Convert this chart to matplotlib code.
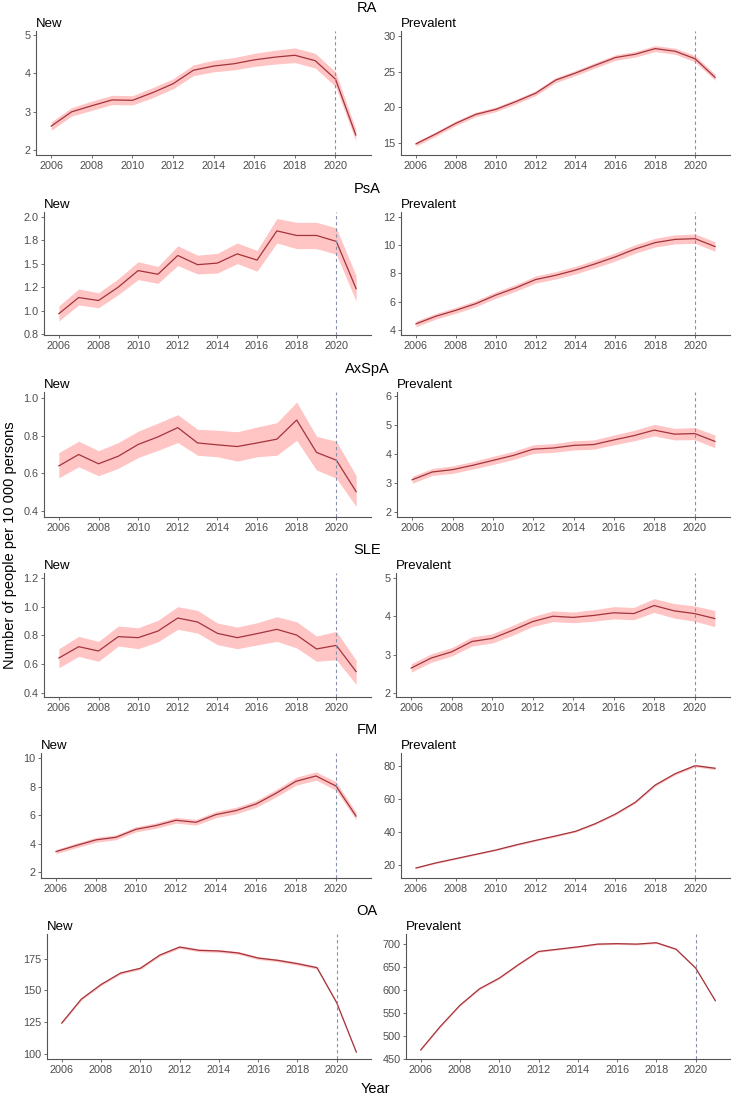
import matplotlib
matplotlib.use("Agg")
import matplotlib.pyplot as plt

plt.rcParams['font.family'] = ['Liberation Sans', 'DejaVu Sans']

years = list(range(2006, 2022))
x_ticks = [2006, 2008, 2010, 2012, 2014, 2016, 2018, 2020]
cut_year = 2020

diseases = ['RA', 'PsA', 'AxSpA', 'SLE', 'FM', 'OA']

# RA
ra_new = [2.63, 3.00, 3.16, 3.31, 3.30, 3.50, 3.73, 4.08, 4.19, 4.25, 4.35, 4.42, 4.47, 4.33, 3.85, 2.40]
ra_new_lo = [2.52, 2.89, 3.04, 3.19, 3.18, 3.37, 3.60, 3.94, 4.04, 4.09, 4.18, 4.24, 4.28, 4.14, 3.66, 2.25]
ra_new_hi = [2.74, 3.11, 3.28, 3.43, 3.42, 3.63, 3.86, 4.22, 4.34, 4.41, 4.52, 4.60, 4.66, 4.52, 4.04, 2.55]
ra_prev = [14.86, 16.26, 17.75, 19.0, 19.7, 20.78, 21.97, 23.8, 24.8, 25.9, 26.97, 27.44, 28.23, 27.86, 26.8, 24.2]
ra_prev_lo = [14.55, 15.95, 17.43, 18.68, 19.38, 20.45, 21.63, 23.45, 24.44, 25.53, 26.58, 27.04, 27.81, 27.43, 26.36, 23.76]
ra_prev_hi = [15.17, 16.57, 18.07, 19.32, 20.02, 21.11, 22.31, 24.15, 25.16, 26.27, 27.36, 27.84, 28.65, 28.29, 27.24, 24.64]

# PsA
psa_new = [0.967, 1.139, 1.107, 1.25, 1.426, 1.387, 1.587, 1.489, 1.506, 1.604, 1.538, 1.849, 1.80, 1.80, 1.737, 1.233]
psa_new_lo = [0.89, 1.06, 1.03, 1.17, 1.33, 1.29, 1.48, 1.39, 1.40, 1.50, 1.42, 1.72, 1.66, 1.66, 1.60, 1.10]
psa_new_hi = [1.05, 1.23, 1.19, 1.34, 1.52, 1.47, 1.69, 1.59, 1.61, 1.72, 1.64, 1.98, 1.94, 1.94, 1.88, 1.37]
psa_prev = [4.42, 4.96, 5.38, 5.85, 6.46, 6.97, 7.56, 7.86, 8.23, 8.68, 9.17, 9.73, 10.18, 10.41, 10.46, 9.9]
psa_prev_lo = [4.22, 4.76, 5.17, 5.63, 6.23, 6.73, 7.31, 7.60, 7.96, 8.40, 8.88, 9.43, 9.87, 10.09, 10.13, 9.56]
psa_prev_hi = [4.62, 5.16, 5.59, 6.07, 6.69, 7.21, 7.81, 8.12, 8.50, 8.96, 9.46, 10.03, 10.49, 10.73, 10.79, 10.24]

# AxSpA
axspa_new = [0.640, 0.700, 0.651, 0.691, 0.753, 0.793, 0.842, 0.761, 0.751, 0.742, 0.761, 0.781, 0.882, 0.711, 0.670, 0.504]
axspa_new_lo = [0.577, 0.635, 0.588, 0.627, 0.684, 0.722, 0.763, 0.696, 0.688, 0.665, 0.688, 0.696, 0.775, 0.618, 0.575, 0.425]
axspa_new_hi = [0.710, 0.770, 0.720, 0.763, 0.823, 0.866, 0.910, 0.833, 0.828, 0.820, 0.845, 0.868, 0.977, 0.796, 0.770, 0.588]
axspa_prev = [3.10, 3.37, 3.45, 3.60, 3.77, 3.94, 4.16, 4.20, 4.29, 4.32, 4.48, 4.63, 4.82, 4.68, 4.70, 4.43]
axspa_prev_lo = [2.98, 3.25, 3.32, 3.47, 3.63, 3.80, 4.01, 4.05, 4.13, 4.16, 4.31, 4.45, 4.62, 4.48, 4.49, 4.21]
axspa_prev_hi = [3.22, 3.49, 3.58, 3.73, 3.91, 4.08, 4.31, 4.35, 4.45, 4.48, 4.65, 4.81, 5.02, 4.88, 4.91, 4.65]

# SLE
sle_new = [0.642, 0.721, 0.691, 0.791, 0.784, 0.830, 0.921, 0.893, 0.814, 0.784, 0.812, 0.842, 0.802, 0.705, 0.730, 0.547]
sle_new_lo = [0.574, 0.653, 0.619, 0.726, 0.707, 0.755, 0.842, 0.816, 0.735, 0.707, 0.733, 0.758, 0.712, 0.619, 0.630, 0.458]
sle_new_hi = [0.707, 0.793, 0.758, 0.865, 0.853, 0.905, 1.000, 0.974, 0.886, 0.858, 0.888, 0.930, 0.895, 0.795, 0.828, 0.626]
sle_prev = [2.646, 2.91, 3.07, 3.34, 3.42, 3.63, 3.86, 4.0, 3.97, 4.02, 4.09, 4.07, 4.28, 4.14, 4.07, 3.94]
sle_prev_lo = [2.54, 2.80, 2.96, 3.22, 3.30, 3.50, 3.73, 3.86, 3.83, 3.87, 3.93, 3.91, 4.10, 3.95, 3.87, 3.73]
sle_prev_hi = [2.76, 3.02, 3.18, 3.46, 3.54, 3.76, 3.99, 4.14, 4.11, 4.17, 4.25, 4.23, 4.46, 4.33, 4.27, 4.15]

# FM
fm_new = [3.45, 3.87, 4.27, 4.45, 5.01, 5.27, 5.64, 5.50, 6.04, 6.32, 6.78, 7.53, 8.37, 8.74, 8.04, 5.94]
fm_new_lo = [3.30, 3.71, 4.10, 4.28, 4.83, 5.08, 5.44, 5.30, 5.82, 6.09, 6.54, 7.27, 8.09, 8.45, 7.74, 5.68]
fm_new_hi = [3.60, 4.03, 4.44, 4.62, 5.19, 5.46, 5.84, 5.70, 6.26, 6.55, 7.02, 7.79, 8.65, 9.03, 8.34, 6.20]
fm_prev = [17.9, 21.0, 23.6, 26.2, 28.8, 31.9, 34.7, 37.4, 40.2, 44.9, 50.7, 57.9, 68.4, 75.3, 80.2, 78.6]
fm_prev_lo = [17.5, 20.6, 23.2, 25.8, 28.4, 31.4, 34.2, 36.9, 39.7, 44.4, 50.1, 57.3, 67.7, 74.6, 79.4, 77.8]
fm_prev_hi = [18.3, 21.4, 24.0, 26.6, 29.2, 32.4, 35.2, 37.9, 40.7, 45.4, 51.3, 58.5, 69.1, 76.0, 81.0, 79.4]

# OA
oa_new = [124.2, 143.1, 154.6, 163.7, 167.4, 177.9, 184.2, 181.6, 181.1, 179.5, 175.5, 173.7, 171.1, 167.9, 140.3, 101.3]
oa_new_lo = [123.4, 142.2, 153.7, 162.8, 166.4, 176.9, 183.1, 180.5, 180.0, 178.4, 174.4, 172.6, 170.0, 166.8, 139.3, 100.4]
oa_new_hi = [125.0, 144.0, 155.5, 164.6, 168.4, 178.9, 185.3, 182.7, 182.2, 180.6, 176.6, 174.8, 172.2, 169.0, 141.3, 102.2]
oa_prev = [468.8, 520, 566, 602, 625, 655, 683, 688, 693, 699, 700, 699, 702, 688, 647, 576]
oa_prev_lo = [467.3, 518.3, 564.3, 600.2, 623.2, 653.2, 681.2, 686.2, 691.2, 697.1, 698.1, 697.1, 700.1, 686.1, 645.1, 574.2]
oa_prev_hi = [470.3, 521.7, 567.7, 603.8, 626.8, 656.8, 684.8, 689.8, 694.8, 700.9, 701.9, 700.9, 703.9, 689.9, 648.9, 577.8]

# y ticks for each panel
new_ticks = [[2, 3, 4, 5], [0.75, 1.0, 1.25, 1.5, 1.75, 2.0], [0.4, 0.6, 0.8, 1.0],
             [0.4, 0.6, 0.8, 1.0, 1.2], [2, 4, 6, 8, 10], [100, 125, 150, 175]]
new_labels = [['2', '3', '4', '5'], ['0.8', '1.0', '1.2', '1.5', '1.8', '2.0'], ['0.4', '0.6', '0.8', '1.0'],
              ['0.4', '0.6', '0.8', '1.0', '1.2'], ['2', '4', '6', '8', '10'], ['100', '125', '150', '175']]
prev_ticks = [[15, 20, 25, 30], [4, 6, 8, 10, 12], [2, 3, 4, 5, 6],
              [2, 3, 4, 5], [20, 40, 60, 80], [450, 500, 550, 600, 650, 700]]

new_series = [(ra_new, ra_new_lo, ra_new_hi), (psa_new, psa_new_lo, psa_new_hi),
              (axspa_new, axspa_new_lo, axspa_new_hi), (sle_new, sle_new_lo, sle_new_hi),
              (fm_new, fm_new_lo, fm_new_hi), (oa_new, oa_new_lo, oa_new_hi)]
prev_series = [(ra_prev, ra_prev_lo, ra_prev_hi), (psa_prev, psa_prev_lo, psa_prev_hi),
               (axspa_prev, axspa_prev_lo, axspa_prev_hi), (sle_prev, sle_prev_lo, sle_prev_hi),
               (fm_prev, fm_prev_lo, fm_prev_hi), (oa_prev, oa_prev_lo, oa_prev_hi)]

new_ylim = [(1.88, 5.1), (0.74, 2.05), (0.37, 1.03), (0.37, 1.235), (1.6, 10.35), (95.8, 194.5)]
prev_ylim = [(13.3, 30.7), (3.63, 12.35), (1.81, 6.14), (1.89, 5.13), (11.8, 87.9), (449, 721)]

# layout in pixels
W, H = 734, 1099
rows_px = [(31, 155), (212, 335), (392, 517), (573, 697), (753, 878), (934, 1059)]
left_x = [36, 44, 44, 44, 41, 47]
right_x = [401, 401, 397, 396, 401, 406]
left_end, right_end = 371, 730

line_col = '#A3343C'
fill_col = '#FFC4C4'
vline_col = '#8890AC'
axis_col = '#555555'
text_col = '#4D4D4D'

fig = plt.figure(figsize=(W / 100, H / 100), dpi=100)


def draw(ax, series, ticks, labels, ylim, title):
    mid, lo, hi = series
    ax.fill_between(years, lo, hi, color=fill_col, lw=0)
    ax.plot(years, mid, color=line_col, lw=0.9)
    ax.axvline(cut_year, color=vline_col, lw=0.8, ls=(0, (3, 2.5)))
    ax.set_xlim(2005.25, 2021.75)
    ax.set_ylim(*ylim)
    ax.set_xticks(x_ticks)
    ax.set_yticks(ticks)
    if labels is not None:
        ax.set_yticklabels(labels)
    for s in ['top', 'right']:
        ax.spines[s].set_visible(False)
    for s in ['left', 'bottom']:
        ax.spines[s].set_color(axis_col)
        ax.spines[s].set_linewidth(0.8)
    ax.tick_params(length=2.5, width=0.6, color=axis_col, labelsize=7.8, labelcolor=text_col, pad=1.5)
    ax.set_title(title, loc='left', fontsize=9.5, pad=3, color='black')


for i in range(6):
    top, bot = rows_px[i]
    b = 1 - bot / H
    h = (bot - top) / H
    axl = fig.add_axes([left_x[i] / W, b, (left_end - left_x[i]) / W, h])
    draw(axl, new_series[i], new_ticks[i], new_labels[i], new_ylim[i], 'New')
    axr = fig.add_axes([right_x[i] / W, b, (right_end - right_x[i]) / W, h])
    draw(axr, prev_series[i], prev_ticks[i], None, prev_ylim[i], 'Prevalent')
    fig.text(367 / W, 1 - (top - 23) / H, diseases[i], ha='center', va='center', fontsize=10.5)

fig.text(10 / W, 1 - 545 / H, 'Number of people per 10 000 persons', rotation=90,
         ha='center', va='center', fontsize=10.5)
fig.text(375 / W, 1 - 1089 / H, 'Year', ha='center', va='center', fontsize=10.5)

fig.savefig('out.png', dpi=100)
